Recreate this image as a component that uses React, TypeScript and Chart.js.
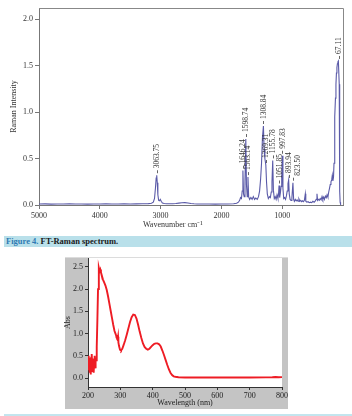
import React, { useEffect, useRef } from 'react';
import { Chart, registerables } from 'chart.js';

Chart.register(...registerables);

const SERIF = '"Liberation Serif", "Times New Roman", Times, serif';

// ---- FT-Raman spectrum (wavenumber in cm-1, descending) ----
const ramanWavenumber = [
  5000, 4900, 4800, 4700, 4600, 4500, 4400, 4300, 4200, 4100, 4000, 3900, 3800, 3700, 3600, 3500, 3400, 3300,
  3200, 3150, 3120, 3100, 3085, 3073, 3063.75, 3055, 3045, 3032, 3020, 3005, 2990, 2970, 2940, 2900, 2850, 2800,
  2750, 2700, 2650, 2600, 2550, 2500, 2450, 2400, 2300, 2200, 2100, 2000, 1900, 1800, 1750, 1720, 1700, 1685,
  1670, 1658, 1646.24, 1636, 1625, 1612, 1598.74, 1588, 1575, 1563.14, 1552, 1535, 1515, 1495, 1475, 1455, 1435,
  1410, 1390, 1372, 1355, 1340, 1325, 1308.84, 1298, 1285, 1269.31, 1258, 1245, 1228, 1210, 1195, 1180, 1168,
  1155.78, 1145, 1130, 1115, 1100, 1085, 1070, 1060, 1051.85, 1042, 1030, 1018, 1008, 997.83, 988, 975, 960, 945,
  930, 918, 905, 893.94, 884, 870, 855, 840, 823.5, 812, 800, 785, 770, 755, 740, 725, 710, 695, 680, 665, 650,
  635, 620, 612, 595, 575, 555, 535, 515, 495, 475, 455, 440, 428, 418, 405, 390, 375, 360, 345, 332, 318, 305,
  290, 275, 262, 248, 235, 222, 210, 198, 186, 176, 166, 156, 148, 140, 132, 124, 116, 108, 100, 92, 84, 76,
  67.11, 62, 57, 52, 47, 40,
];
const ramanIntensity = [
  0.010, 0.012, 0.009, 0.011, 0.010, 0.012, 0.010, 0.011, 0.009, 0.011, 0.010, 0.012, 0.010, 0.011, 0.012, 0.010, 0.012, 0.013,
  0.015, 0.018, 0.030, 0.070, 0.180, 0.290, 0.320, 0.240, 0.110, 0.050, 0.045, 0.060, 0.040, 0.022, 0.016, 0.014, 0.013, 0.014,
  0.016, 0.020, 0.024, 0.026, 0.022, 0.016, 0.013, 0.011, 0.010, 0.010, 0.009, 0.010, 0.011, 0.013, 0.018, 0.030, 0.050, 0.080,
  0.070, 0.150, 0.370, 0.120, 0.090, 0.250, 0.710, 0.220, 0.090, 0.300, 0.090, 0.060, 0.080, 0.060, 0.090, 0.060, 0.075,
  0.060, 0.090, 0.150, 0.280, 0.450, 0.720, 0.850, 0.600, 0.500, 0.430, 0.250, 0.120, 0.070, 0.090, 0.080, 0.140, 0.250,
  0.480, 0.160, 0.070, 0.090, 0.060, 0.110, 0.070, 0.120, 0.210, 0.080, 0.130, 0.200, 0.300, 0.530, 0.180, 0.070, 0.080, 0.060,
  0.100, 0.150, 0.230, 0.270, 0.120, 0.060, 0.050, 0.080, 0.240, 0.060, 0.040, 0.060, 0.045, 0.055, 0.040, 0.065, 0.040, 0.050, 0.035, 0.045, 0.035,
  0.050, 0.120, 0.040, 0.030, 0.035, 0.025, 0.030, 0.025, 0.040, 0.030, 0.045, 0.060, 0.120, 0.050, 0.060, 0.050, 0.070, 0.055, 0.090, 0.060, 0.085, 0.060,
  0.095, 0.080, 0.110, 0.085, 0.140, 0.180, 0.220, 0.250, 0.270, 0.320, 0.260, 0.300, 0.450, 0.700, 0.950, 1.150, 1.300, 1.420, 1.480, 1.520, 1.540, 1.550,
  1.550, 1.300, 0.700, 0.150, 0.030, 0.010,
];
const ramanTicksX = [5000, 4000, 3000, 2000, 1000];
const ramanTicksY = [0, 0.5, 1.0, 1.5, 2.0];
const peakLabels = [
  '3063.75', '1646.24', '1598.74', '1563.14', '1308.84', '1269.31',
  '1155.78', '1051.85', '997.83', '893.94', '823.50', '67.11',
];

// ---- UV-Vis absorption spectrum ----
const uvWavelength = [
  200, 201, 202, 203, 204, 205, 206, 207, 208, 209, 210, 211, 212, 213, 214, 215, 216, 217, 218, 219, 220, 221,
  222, 223, 224, 225, 227, 229, 231, 233, 234, 236, 238, 240, 243, 246, 250, 254, 258, 262, 266, 270, 274, 278,
  282, 285, 287, 288, 289, 290, 291, 292, 293, 294, 296, 299, 302, 306, 310, 315, 320, 325, 330, 335, 340, 345,
  350, 355, 360, 365, 370, 375, 380, 385, 390, 395, 400, 405, 410, 415, 420, 425, 430, 435, 440, 445, 450, 455,
  460, 465, 470, 480, 500, 550, 600, 650, 700, 750, 770, 780, 790, 800,
];
const uvAbs = [
  0.28, 0.42, 0.18, 0.50, 0.30, 0.12, 0.46, 0.22, 0.38, 0.08, 0.48, 0.20, 0.54, 0.28, 0.14, 0.44, 0.24, 0.40, 0.12, 0.36, 0.28, 0.50,
  0.34, 0.22, 0.46, 0.40, 0.70, 1.30, 2.00, 2.45, 2.48, 2.40, 2.44, 2.38, 2.30, 2.22, 2.15, 2.08, 1.98, 1.84, 1.68, 1.52, 1.36, 1.20,
  1.06, 1.00, 0.96, 0.90, 0.97, 0.88, 0.95, 0.86, 0.93, 0.80, 0.72, 0.64, 0.62, 0.66, 0.74, 0.85, 0.98, 1.12, 1.26, 1.37, 1.43, 1.42,
  1.34, 1.20, 1.04, 0.90, 0.78, 0.70, 0.66, 0.64, 0.66, 0.70, 0.74, 0.77, 0.78, 0.78, 0.76, 0.71, 0.62, 0.52, 0.41, 0.30, 0.20, 0.12,
  0.07, 0.04, 0.03, 0.02, 0.015, 0.015, 0.015, 0.015, 0.015, 0.016, 0.02, 0.025, 0.02, 0.022,
];
const uvTicksX = [200, 300, 400, 500, 600, 700, 800];
const uvTicksY = [0, 0.5, 1.0, 1.5, 2.0, 2.5];

const tickFont = { family: SERIF, size: 8 };

// Horizontal nudge (px) for labels that would collide with a neighbour
const labelNudge: Record<string, number> = { '823.50': 5 };

// Rotated peak position labels with a short marker above each peak
const peakLabelPlugin = {
  id: 'peakLabels',
  afterDatasetsDraw(chart: any) {
    const { ctx } = chart;
    const xs = chart.scales.x;
    const ys = chart.scales.y;
    ctx.save();
    ctx.font = `7.5px ${SERIF}`;
    ctx.fillStyle = '#333';
    ctx.strokeStyle = '#666';
    ctx.lineWidth = 1;
    for (const label of peakLabels) {
      const wn = parseFloat(label);
      const i = ramanWavenumber.indexOf(wn);
      const px = xs.getPixelForValue(wn);
      const py = ys.getPixelForValue(ramanIntensity[i]);
      ctx.beginPath();
      ctx.moveTo(Math.round(px) + 0.5, py - 5);
      ctx.lineTo(Math.round(px) + 0.5, py - 2);
      ctx.stroke();
      ctx.save();
      ctx.translate(px + (labelNudge[label] || 0), py - 7);
      ctx.rotate(-Math.PI / 2);
      ctx.textAlign = 'left';
      ctx.textBaseline = 'middle';
      ctx.fillText(label, 0, 0.5);
      ctx.restore();
    }
    ctx.restore();
  },
};

// Top/right frame lines and the x-axis caption of the Raman plot
const ramanFramePlugin = {
  id: 'ramanFrame',
  afterDraw(chart: any) {
    const { ctx, chartArea: a } = chart;
    ctx.save();
    ctx.strokeStyle = '#888';
    ctx.lineWidth = 1;
    ctx.beginPath();
    ctx.moveTo(a.left, a.top + 0.5);
    ctx.lineTo(a.right + 0.5, a.top + 0.5);
    ctx.lineTo(a.right + 0.5, a.bottom);
    ctx.stroke();
    ctx.font = `8px ${SERIF}`;
    ctx.fillStyle = '#333';
    ctx.textAlign = 'center';
    ctx.textBaseline = 'middle';
    ctx.fillText('Wavenumber cm\u207B\u00B9', a.left + (a.right - a.left) * 0.44, a.bottom + 20);
    ctx.restore();
  },
};

// Grey panel behind the UV-Vis plot with a white plotting area
const uvPanelPlugin = {
  id: 'uvPanel',
  beforeDraw(chart: any) {
    const { ctx, chartArea: a } = chart;
    ctx.save();
    ctx.fillStyle = '#c4c4c4';
    ctx.fillRect(a.left - 23, a.top - 1, a.right - a.left + 29, a.bottom - a.top + 23);
    ctx.fillStyle = '#dcdcdc';
    ctx.fillRect(a.left - 23, a.top - 1, a.right - a.left + 29, 1);
    ctx.fillStyle = '#ffffff';
    ctx.fillRect(a.left, a.top, a.right - a.left, a.bottom - a.top);
    ctx.restore();
  },
};

function RamanChart() {
  const ref = useRef<HTMLCanvasElement | null>(null);
  useEffect(() => {
    if (!ref.current) return;
    const points = ramanWavenumber.map((x, i) => ({ x, y: ramanIntensity[i] }));
    const chart = new Chart(ref.current, {
      type: 'line',
      data: {
        datasets: [
          {
            data: points,
            borderColor: '#5a5aa8',
            borderWidth: 1.1,
            pointRadius: 0,
            tension: 0,
            fill: false,
          },
        ],
      },
      options: {
        responsive: false,
        devicePixelRatio: 1,
        animation: false,
        events: [],
        layout: { padding: { top: 8, right: 9, left: 0, bottom: 0 } },
        plugins: { legend: { display: false }, tooltip: { enabled: false } },
        scales: {
          x: {
            type: 'linear',
            reverse: true,
            min: 0,
            max: 5000,
            afterBuildTicks: (s: any) => {
              s.ticks = ramanTicksX.map((value) => ({ value }));
            },
            afterFit: (s: any) => {
              s.height = 27;
            },
            ticks: { font: tickFont, color: '#333', padding: 2, maxRotation: 0, autoSkip: false, callback: (v: any) => String(v) },
            grid: { drawOnChartArea: false, tickLength: 4, color: '#777' },
            border: { color: '#777' },
          },
          y: {
            type: 'linear',
            min: 0,
            max: 2.12,
            afterBuildTicks: (s: any) => {
              s.ticks = ramanTicksY.map((value) => ({ value }));
            },
            afterFit: (s: any) => {
              s.width = 39;
            },
            ticks: { font: tickFont, color: '#333', padding: 2, callback: (v: any) => Number(v).toFixed(1) },
            grid: { drawOnChartArea: false, tickLength: 4, color: '#777' },
            border: { color: '#777' },
            title: { display: true, text: 'Raman Intensity', font: { family: SERIF, size: 8 }, color: '#333', padding: { top: 9, bottom: 0 } },
          },
        },
      },
      plugins: [peakLabelPlugin, ramanFramePlugin],
    } as any);
    return () => chart.destroy();
  }, []);
  return <canvas ref={ref} width={352} height={232} style={{ position: 'absolute', left: 0, top: 0 }} />;
}

function UvChart() {
  const ref = useRef<HTMLCanvasElement | null>(null);
  useEffect(() => {
    if (!ref.current) return;
    const points = uvWavelength.map((x, i) => ({ x, y: uvAbs[i] }));
    const chart = new Chart(ref.current, {
      type: 'line',
      data: {
        datasets: [
          {
            data: points,
            borderColor: '#ee1c24',
            borderWidth: 1.9,
            pointRadius: 0,
            tension: 0,
            fill: false,
          },
        ],
      },
      options: {
        responsive: false,
        devicePixelRatio: 1,
        animation: false,
        events: [],
        layout: { padding: { top: 8, right: 70, left: 63, bottom: 7 } },
        plugins: { legend: { display: false }, tooltip: { enabled: false } },
        scales: {
          x: {
            type: 'linear',
            min: 200,
            max: 800,
            afterBuildTicks: (s: any) => {
              s.ticks = uvTicksX.map((value) => ({ value }));
            },
            afterFit: (s: any) => {
              s.height = 22;
            },
            ticks: { font: tickFont, color: '#222', padding: 1, maxRotation: 0, autoSkip: false, callback: (v: any) => String(v) },
            grid: { drawOnChartArea: false, tickLength: 3, color: '#333' },
            border: { color: '#333' },
            title: { display: true, text: 'Wavelength (nm)', font: { family: SERIF, size: 8 }, color: '#222', padding: { top: 0, bottom: 1 } },
          },
          y: {
            type: 'linear',
            min: -0.2,
            max: 2.7,
            afterBuildTicks: (s: any) => {
              s.ticks = uvTicksY.map((value) => ({ value }));
            },
            afterFit: (s: any) => {
              s.width = 25;
            },
            ticks: { font: tickFont, color: '#222', padding: 2, callback: (v: any) => Number(v).toFixed(1) },
            grid: { drawOnChartArea: false, tickLength: 3, color: '#333' },
            border: { color: '#333' },
            title: { display: true, text: 'Abs', font: { family: SERIF, size: 8 }, color: '#222', padding: { top: 0, bottom: 0 } },
          },
        },
      },
      plugins: [uvPanelPlugin],
    } as any);
    return () => chart.destroy();
  }, []);
  return <canvas ref={ref} width={352} height={166} style={{ position: 'absolute', left: 0, top: 250 }} />;
}

export default function App() {
  return (
    <div style={{ position: 'absolute', left: 0, top: 0, width: 352, height: 416, background: '#fff', overflow: 'hidden' }}>
      <RamanChart />
      <div
        style={{
          position: 'absolute',
          left: 4,
          top: 236,
          width: 348,
          height: 11,
          background: '#b9e0ea',
          fontFamily: SERIF,
          fontSize: 8.5,
          fontWeight: 'bold',
          lineHeight: '11px',
          paddingLeft: 2,
          boxSizing: 'border-box',
          whiteSpace: 'nowrap',
          color: '#1a1a1a',
        }}
      >
        <span style={{ color: '#2e7bb4' }}>Figure 4.</span> FT-Raman spectrum.
      </div>
      <UvChart />
      <div style={{ position: 'absolute', left: 4, top: 414, width: 348, height: 2, background: '#c3e5ee' }} />
    </div>
  );
}
